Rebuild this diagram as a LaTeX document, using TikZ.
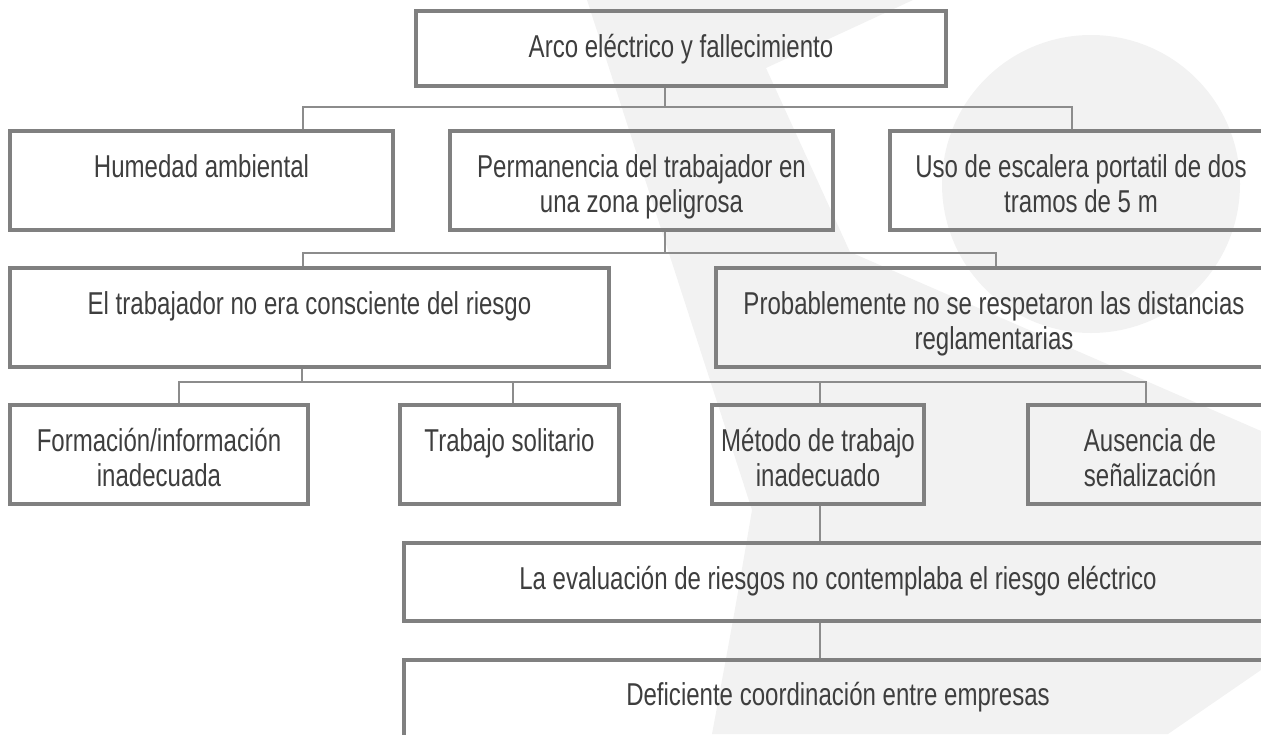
\documentclass[tikz,border=0pt]{standalone}
\usepackage{fontspec}
\setmainfont{Liberation Sans}[FakeStretch=0.76]
\usetikzlibrary{calc,fit}
\definecolor{boxgrey}{RGB}{128,128,128}
\definecolor{linegrey}{RGB}{140,140,140}
\definecolor{textgrey}{RGB}{62,62,62}
\definecolor{logogrey}{RGB}{242,242,242}

\begin{document}
\begin{tikzpicture}
  [
    x=0.02cm, y=-0.02cm,
    box/.style={draw=boxgrey, line width=1.8pt, inner sep=0pt},
    cause/.style={text=textgrey, font=\fontsize{18}{19.9}\selectfont, align=center, inner sep=0pt, anchor=north},
    link/.style={draw=linegrey, line width=1.3pt},
    logo/.style={fill=logogrey}
  ]
  \clip (0,0) rectangle (1261,734);

  \fill[logo] (1091,184) circle[radius=149];
  \fill[logo] (587,0) -- (913,0) -- (766,68) -- (850,252) -- (1261,431) -- (1261,670)
    -- (1168,734) -- (712,734) .. controls (735,610) .. (752,510) -- cycle;

  \node[box, fit={(416,11) (946,86)}] (top) {};
  \node[box, fit={(10,131) (393,230)}] (hum) {};
  \node[box, fit={(450,131) (833,230)}] (perm) {};
  \node[box, fit={(890,131) (1272,230)}] (uso) {};
  \node[box, fit={(10,268) (609,367)}] (trab) {};
  \node[box, fit={(716,268) (1272,367)}] (prob) {};
  \node[box, fit={(10,405) (308,504)}] (form) {};
  \node[box, fit={(400,405) (619,504)}] (tsol) {};
  \node[box, fit={(712,405) (924,504)}] (met) {};
  \node[box, fit={(1028,405) (1272,504)}] (aus) {};
  \node[box, fit={(404,543) (1272,621)}] (eval) {};
  \node[box, fit={(404,660) (1272,760)}] (def) {};

  \node[cause] (topt) at ($(top.north)+(0,23)$) {\strut Arco eléctrico y fallecimiento};
  \node[cause] (humt) at ($(hum.north)+(0,23)$) {\strut Humedad ambiental};
  \node[cause] (permt) at ($(perm.north)+(0,23)$) {\strut Permanencia del trabajador en\\una zona peligrosa};
  \node[cause] (usot) at ($(uso.north)+(0,23)$) {\strut Uso de escalera portatil de dos\\tramos de 5 m};
  \node[cause] (trabt) at ($(trab.north)+(0,23)$) {\strut El trabajador no era consciente del riesgo};
  \node[cause] (probt) at ($(prob.north)+(0,23)$) {\strut Probablemente no se respetaron las distancias\\reglamentarias};
  \node[cause] (formt) at ($(form.north)+(0,23)$) {\strut Formación/información\\inadecuada};
  \node[cause] (tsolt) at ($(tsol.north)+(0,23)$) {\strut Trabajo solitario};
  \node[cause] (mett) at ($(met.north)+(0,23)$) {\strut Método de trabajo\\inadecuado};
  \node[cause] (aust) at ($(aus.north)+(0,23)$) {\strut Ausencia de\\señalización};
  \node[cause] (evalt) at ($(eval.north)+(0,23)$) {\strut La evaluación de riesgos no contemplaba el riesgo eléctrico};
  \node[cause] (deft) at ($(def.north)+(0,22)$) {\strut Deficiente coordinación entre empresas};

  \coordinate (j1) at (665,107);
  \coordinate (j1l) at (303,107);
  \coordinate (j1r) at (1072,107);
  \coordinate (j2) at (665,253);
  \coordinate (j2l) at (303,253);
  \coordinate (j2r) at (996,253);
  \coordinate (j3) at (302,382);
  \coordinate (j3a) at (179,382);
  \coordinate (j3b) at (513,382);
  \coordinate (j3c) at (820,382);
  \coordinate (j3d) at (1146,382);

  \draw[link] (top.south -| j1) -- (j1);
  \draw[link] (hum.north -| j1l) -- (j1l) -- (j1r) -- (uso.north -| j1r);
  \draw[link] (perm.south -| j2) -- (j2);
  \draw[link] (trab.north -| j2l) -- (j2l) -- (j2r) -- (prob.north -| j2r);
  \draw[link] (trab.south -| j3) -- (j3);
  \draw[link] (form.north -| j3a) -- (j3a) -- (j3d) -- (aus.north -| j3d);
  \draw[link] (j3b) -- (tsol.north -| j3b);
  \draw[link] (j3c) -- (met.north -| j3c);
  \draw[link] (met.south -| j3c) -- (eval.north -| j3c);
  \draw[link] (eval.south -| j3c) -- (def.north -| j3c);
\end{tikzpicture}
\end{document}
